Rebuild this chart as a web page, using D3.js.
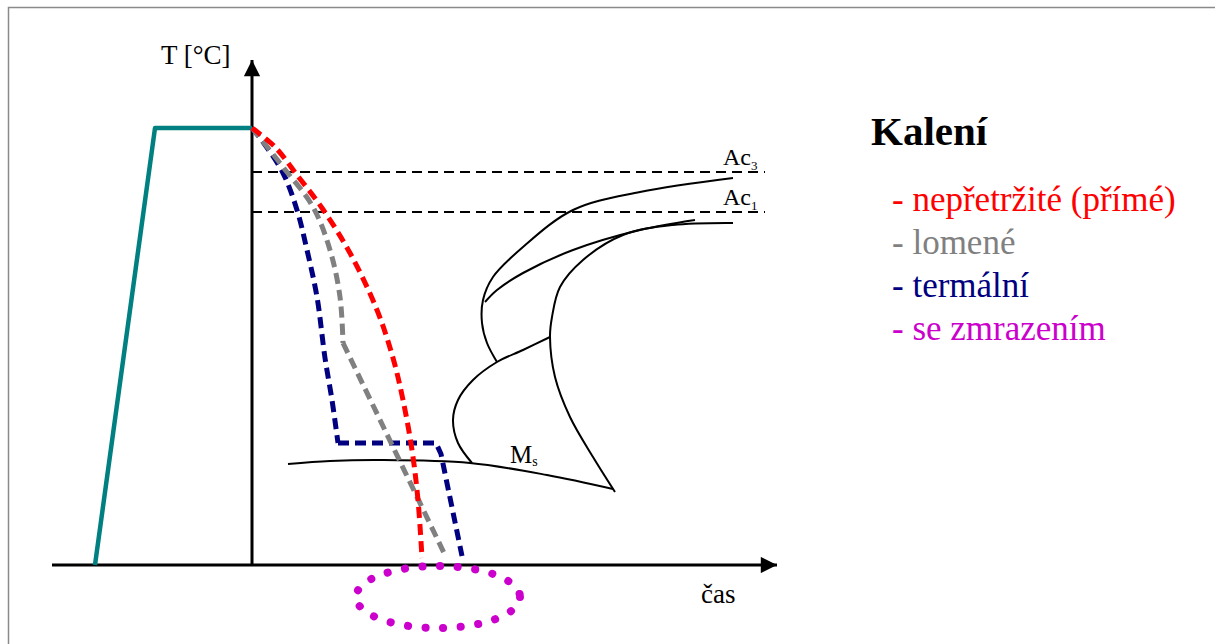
<!DOCTYPE html>
<html>
<head>
<meta charset="utf-8">
<script src="https://cdn.jsdelivr.net/npm/d3@7"></script>
<style>
  body { margin: 0; background: #fff; }
</style>
</head>
<body>
<div id="chart"></div>
<script>
// time (arbitrary units) / temperature [°C]
var heating = [[-31.4, 0], [-19.4, 874], [0, 874]];
var acLevels = [{name: "Ac", sub: "3", T: 786}, {name: "Ac", sub: "1", T: 706}];

var redCurve = [[0, 874], [4.6, 836], [9, 780], [14, 714], [19.6, 624], [25, 510],
                [28.2, 414], [30.2, 330], [32, 230], [33.2, 130], [34, 14]];
var grayCurve = [[0, 874], [6.2, 796], [12.2, 716], [15.6, 630], [17.6, 536], [18.2, 444]];
var grayDrop = [[18.2, 444], [38.6, 20]];
var blueCurve = [[0, 874], [2.2, 846], [6.2, 784], [9, 710], [11, 630], [13, 536],
                 [14.6, 414], [16, 330], [17.2, 244]];
var blueHold = [[17.2, 244], [36.8, 244], [37.8, 222], [42, 18]];

var msLine = [[7.2, 202], [15.6, 208], [25.6, 210], [43.6, 204], [59, 180], [72.2, 152]];
var ttCurves = [
  [[96.2, 774], [77.6, 746], [64.2, 710], [54.2, 636], [48.2, 576], [46.2, 530], [46, 484], [47, 444], [49, 406]],
  [[88.6, 690], [77.6, 670], [64.2, 630], [54.2, 584], [49, 550], [46.6, 526]],
  [[96.2, 684], [84.2, 680], [74.2, 660], [66.2, 610], [61.6, 556], [60, 496], [59.6, 456],
   [60.6, 376], [63.6, 296], [68.2, 216], [72.6, 146]],
  [[59.6, 456], [54.2, 430], [49, 406], [44.2, 370], [41.2, 330], [40.2, 290], [41.2, 244], [44, 204]]
];
var freeze = {t: 37.2, T: -64, rt: 16.4, rT: 62};

var legendTitle = "Kalení";
var legendItems = ["- nepřetržité (přímé)", "- lomené", "- termální", "- se zmrazením"];
var legendColors = ["#ff0000", "#808080", "#000080", "#cc00cc"];

var W = 1215, H = 644;
var serif = "'Liberation Serif', 'DejaVu Serif', serif";
var x = d3.scaleLinear().domain([-40, 105]).range([52, 777]);
var y = d3.scaleLinear().domain([0, 1000]).range([565, 65]);

var svg = d3.select("#chart").append("svg")
    .attr("width", W).attr("height", H)
    .attr("font-family", serif);

// frame
svg.append("path")
    .attr("d", "M8.5," + H + "V7.5H" + W)
    .attr("fill", "none").attr("stroke", "#8a8a8a").attr("stroke-width", 1.5);

var defs = svg.append("defs");
defs.append("marker").attr("id", "arrow")
    .attr("viewBox", "0 0 10 10").attr("refX", 10).attr("refY", 5)
    .attr("markerWidth", 6).attr("markerHeight", 5.4).attr("orient", "auto")
    .attr("markerUnits", "strokeWidth")
    .append("path").attr("d", "M0,0L10,5L0,10Z").attr("fill", "#000");

var line = d3.line().x(function(d){return x(d[0]);}).y(function(d){return y(d[1]);});
var smooth = d3.line().x(function(d){return x(d[0]);}).y(function(d){return y(d[1]);})
    .curve(d3.curveCatmullRom.alpha(0.5));

// Ac levels
acLevels.forEach(function(a){
  svg.append("line")
      .attr("x1", x(0)).attr("x2", x(102.6))
      .attr("y1", y(a.T)).attr("y2", y(a.T))
      .attr("stroke", "#000").attr("stroke-width", 2)
      .attr("stroke-dasharray", "10,6");
  var t = svg.append("text")
      .attr("x", x(94.2)).attr("y", y(a.T) - 7)
      .attr("font-size", 24).attr("fill", "#000");
  t.append("tspan").text(a.name);
  t.append("tspan").attr("font-size", 13).attr("dy", 5).text(a.sub);
});

// TTT diagram
svg.append("path").attr("d", smooth(msLine))
    .attr("fill", "none").attr("stroke", "#000").attr("stroke-width", 2);
ttCurves.forEach(function(c){
  svg.append("path").attr("d", smooth(c))
      .attr("fill", "none").attr("stroke", "#000").attr("stroke-width", 2);
});
var ms = svg.append("text").attr("x", x(51.6)).attr("y", y(204)).attr("font-size", 25);
ms.append("tspan").text("M");
ms.append("tspan").attr("font-size", 14).attr("dy", 3).text("s");

// axes
svg.append("line")
    .attr("x1", x(0)).attr("y1", y(0)).attr("x2", x(0)).attr("y2", y(1010))
    .attr("stroke", "#000").attr("stroke-width", 3).attr("marker-end", "url(#arrow)");
svg.append("line")
    .attr("x1", x(-40)).attr("y1", y(0)).attr("x2", x(105)).attr("y2", y(0))
    .attr("stroke", "#000").attr("stroke-width", 3).attr("marker-end", "url(#arrow)");
svg.append("text").attr("x", 161).attr("y", 64).attr("font-size", 27).text("T [°C]");
svg.append("text").attr("x", 701).attr("y", 603).attr("font-size", 27).text("čas");

// heating
svg.append("path").attr("d", line(heating))
    .attr("fill", "none").attr("stroke", "#008080").attr("stroke-width", 4.5)
    .attr("stroke-linejoin", "round");

// cooling curves
function dashed(d, gen, color) {
  svg.append("path").attr("d", gen(d))
      .attr("fill", "none").attr("stroke", color).attr("stroke-width", 5)
      .attr("stroke-dasharray", "11,6");
}
dashed(blueCurve, smooth, "#000080");
dashed(blueHold, line, "#000080");
dashed(grayCurve, smooth, "#808080");
dashed(grayDrop, line, "#808080");
dashed(redCurve, smooth, "#ff0000");

// freezing ellipse
svg.append("ellipse")
    .attr("cx", x(freeze.t)).attr("cy", y(freeze.T))
    .attr("rx", x(freeze.rt) - x(0)).attr("ry", y(0) - y(freeze.rT))
    .attr("fill", "none").attr("stroke", "#cc00cc").attr("stroke-width", 8)
    .attr("stroke-linecap", "round").attr("stroke-dasharray", "0.1,17.5");

// legend
svg.append("text").attr("x", 871).attr("y", 145)
    .attr("font-size", 41).attr("font-weight", "bold").text(legendTitle);
svg.selectAll(".leg").data(legendItems).enter().append("text")
    .attr("class", "leg")
    .attr("x", 892).attr("y", function(d, i){return 211 + i * 43;})
    .attr("font-size", 35)
    .attr("fill", function(d, i){return legendColors[i];})
    .text(function(d){return d;});
</script>
</body>
</html>
